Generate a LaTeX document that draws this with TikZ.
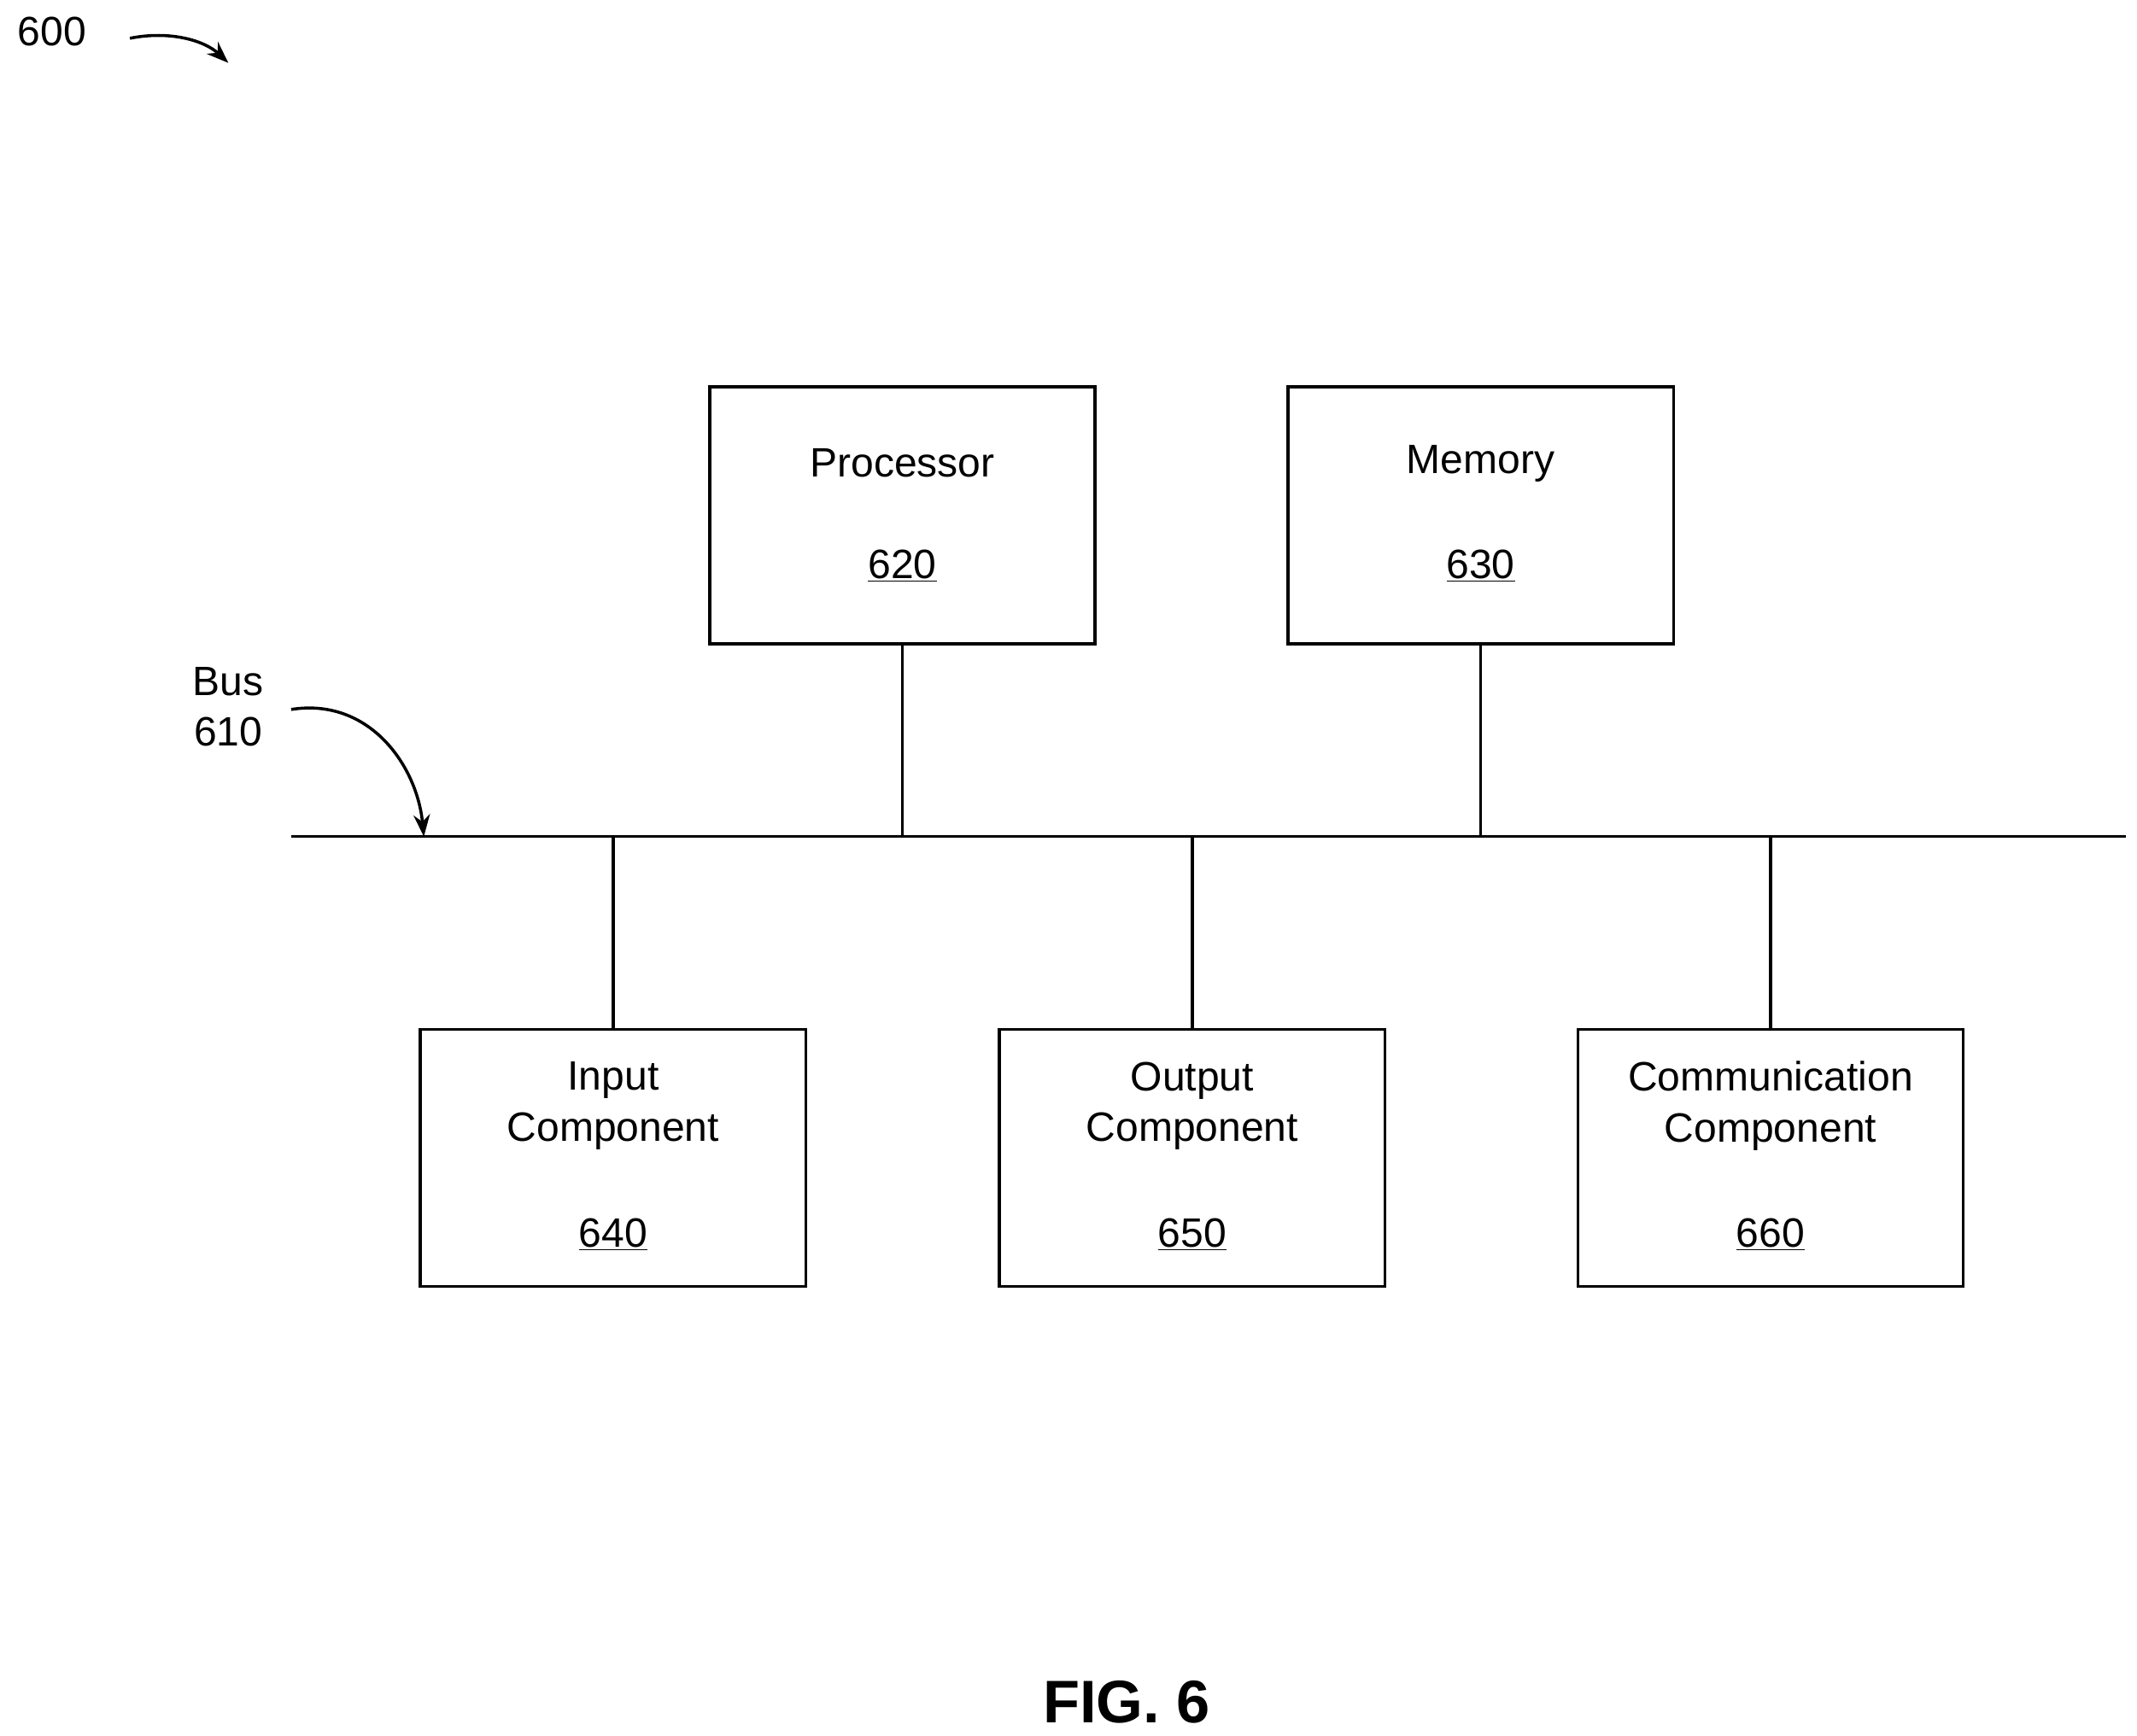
\documentclass[tikz,border=0pt]{standalone}
\usepackage{fontspec}
\setmainfont{Liberation Sans}
\usetikzlibrary{arrows.meta}
\begin{document}
\begin{tikzpicture}[x=1pt,y=-1pt,
  box/.style={draw,line width=2.2pt,minimum width=282pt,minimum height=188pt,inner sep=0pt},
  lbl/.style={font=\fontsize{30}{37}\selectfont,align=center,inner sep=0pt},
  ln/.style={line width=2.2pt},
  arr/.style={line width=2.2pt,-{Stealth[length=16pt,width=12pt]}}]
\useasboundingbox (0,0) rectangle (1563,1270);
\node[box] (p) at (660,377) {};
\node[box] (m) at (1083,377) {};
\node[box] (i) at (448.5,847) {};
\node[box] (o) at (872,847) {};
\node[box] (c) at (1295,847) {};
\node[lbl] at (660,339) {Processor};
\node[lbl] at (660,414) {\underline{620}};
\node[lbl] at (1083,339) {Memory};
\node[lbl] at (1083,414) {\underline{630}};
\node[lbl] at (448.5,809) {Input\\Component};
\node[lbl] at (448.5,903) {\underline{640}};
\node[lbl] at (872,809) {Output\\Component};
\node[lbl] at (872,903) {\underline{650}};
\node[lbl] at (1295,809) {Communication\\Component};
\node[lbl] at (1295,903) {\underline{660}};
\coordinate (bl) at (213,612);
\coordinate (br) at (1555,612);
\draw[ln] (bl) -- (br);
\draw[ln] (p.south) -- (p.south |- bl);
\draw[ln] (m.south) -- (m.south |- bl);
\draw[ln] (i.north) -- (i.north |- bl);
\draw[ln] (o.north) -- (o.north |- bl);
\draw[ln] (c.north) -- (c.north |- bl);
\node[lbl] (l600) at (38,23) {600};
\coordinate (a1) at (95,28);
\coordinate (a2) at (167,46);
\draw[arr] (a1) .. controls (125,22) and (150,30) .. (a2);
\node[lbl] (bus) at (167,517) {Bus\\610};
\coordinate (b1) at (213,519);
\coordinate (b2) at (310,612);
\draw[arr] (b1) .. controls (270,510) and (305,560) .. (b2);
\node[font=\bfseries\fontsize{44}{50}\selectfont,inner sep=0pt] (fig) at (824,1245) {FIG. 6};
\end{tikzpicture}
\end{document}
